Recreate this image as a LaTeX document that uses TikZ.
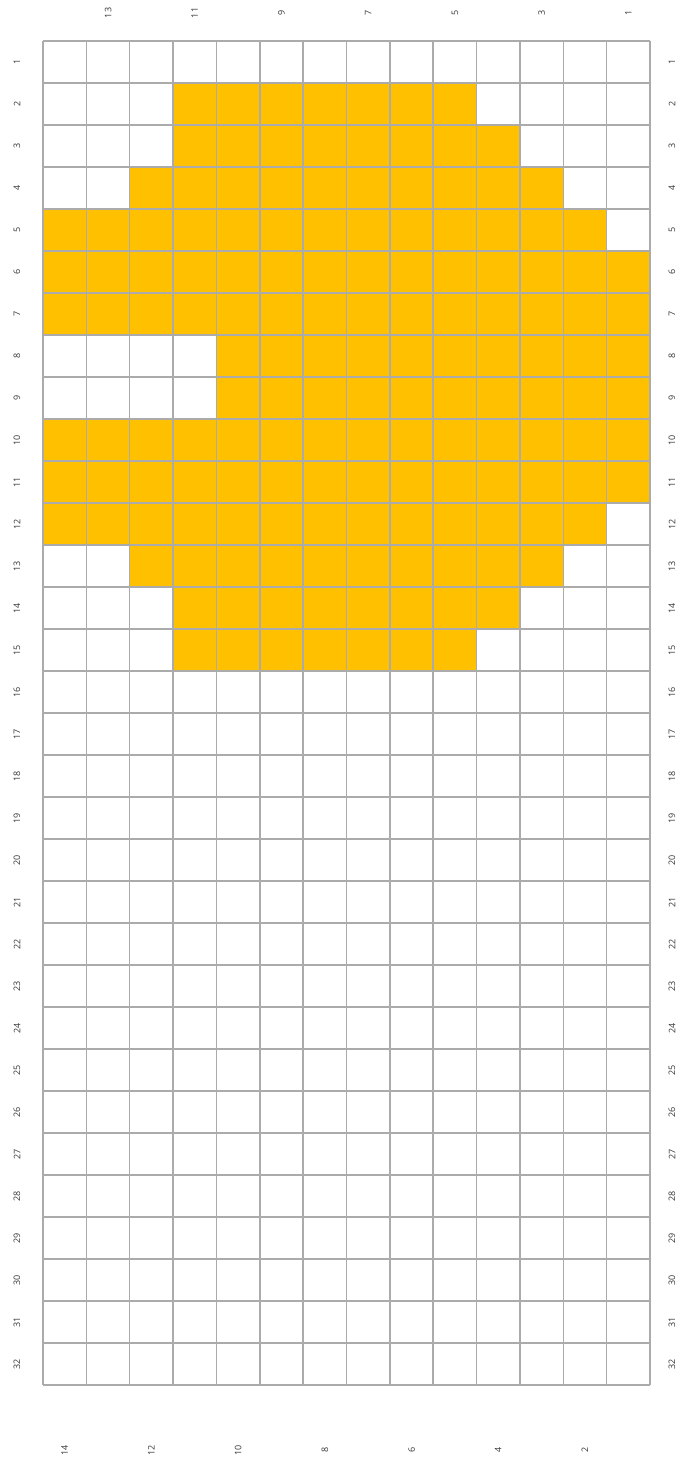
\documentclass[tikz,border=0pt]{standalone}
\usepackage{fontspec}
\setmainfont{Open Sans}
\definecolor{gridgray}{HTML}{ABABAB}
\definecolor{gold}{HTML}{FFC000}
\definecolor{labelgray}{HTML}{383838}
\begin{document}
\begin{tikzpicture}[x=1pt,y=-1pt,
  gridline/.style={draw=gridgray, line width=1.5pt},
  cellfill/.style={fill=gold},
  lbl/.style={font=\fontsize{9}{10}\selectfont, text=labelgray, rotate=90, inner sep=0pt}]
\fill[white] (0,0) rectangle (678,1471);
\useasboundingbox (0,0) rectangle (678,1471);
\pgfmathsetmacro{\cw}{607/14}
\pgfmathsetmacro{\rh}{42}
% filled cells: row / first column / last column
\foreach \r/\a/\b in {2/4/10,3/4/11,4/3/12,5/1/13,6/1/14,7/1/14,8/5/14,9/5/14,10/1/14,11/1/14,12/1/13,13/3/12,14/4/11,15/4/10}
  \fill[cellfill] ({43+(\a-1)*\cw},{41+(\r-1)*\rh}) rectangle ({43+\b*\cw},{41+\r*\rh});
% grid
\foreach \i in {0,...,14}
  \draw[gridline] ({43+\i*\cw},41) -- ({43+\i*\cw},{41+32*\rh});
\foreach \j in {0,...,32}
  \draw[gridline] (43,{41+\j*\rh}) -- (650,{41+\j*\rh});
% row labels
\foreach \j in {1,...,32} {
  \node[lbl] (rl\j) at (17,{41+(\j-0.5)*\rh}) {\j};
  \node[lbl] (rr\j) at (672,{41+(\j-0.5)*\rh}) {\j};
}
% column labels (numbered from the right)
\foreach \k in {1,3,...,13}
  \node[lbl] (ct\k) at ({650-(\k-0.5)*\cw},13) {\k};
\foreach \k in {2,4,...,14}
  \node[lbl] (cb\k) at ({650-(\k-0.5)*\cw},1450) {\k};
\end{tikzpicture}
\end{document}
